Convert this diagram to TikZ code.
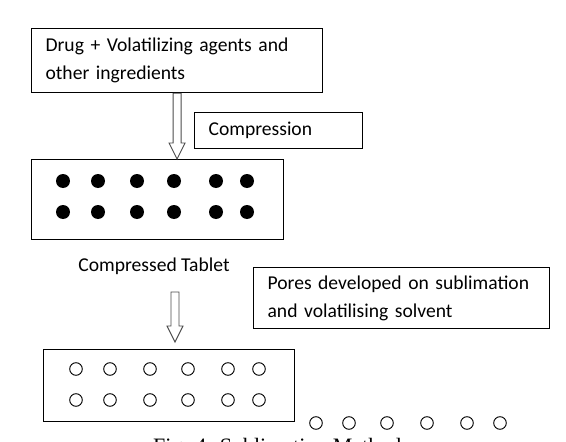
\documentclass[tikz,border=0pt]{standalone}
\usepackage{fontspec}
\setmainfont{Carlito}
\newfontfamily\capfont{Liberation Serif}
\usetikzlibrary{calc}
\newcommand\hollowarrow[2]{%
  \draw[harrow] ($(#1)+(-4,0)$) -- ($(#2)+(-4,-16)$) -- ($(#2)+(-8,-16)$) -- (#2)
    -- ($(#2)+(8,-16)$) -- ($(#2)+(4,-16)$) -- ($(#1)+(4,0)$) -- cycle;}
\begin{document}
\begin{tikzpicture}[x=1pt,y=-1pt,
  box/.style={draw, line width=1.2pt, anchor=north west, inner ysep=0pt, inner xsep=14pt,
              font=\fontsize{19.6}{28}\selectfont, align=left},
  lbl/.style={font=\fontsize{19.6}{28}\selectfont, inner sep=0pt},
  dotf/.style={fill=black},
  pore/.style={draw, line width=0.9pt},
  harrow/.style={draw=black!70, line width=0.9pt, fill=white, line join=miter}]
\useasboundingbox (0,0) rectangle (566,442);
% boxes
\node[box, text width=263pt, minimum height=64pt] (mix) at (31,28)
  {Drug + Volatilizing agents and\\other ingredients};
\node[box, text width=140pt, minimum height=36pt] (comp) at (194,112) {Compression};
\node[box, minimum width=252pt, minimum height=80pt, inner xsep=0pt] (tab) at (31,159) {};
\node[lbl] (ctl) at (154,266) {Compressed Tablet};
\node[box, text width=268pt, minimum height=61pt] (pores) at (253,267)
  {Pores developed on sublimation\\and volatilising solvent};
\node[box, minimum width=251pt, minimum height=72pt, inner xsep=0pt] (porous) at (43,349) {};
% arrows
\coordinate (a1tip) at (mix.south |- tab.north);
\hollowarrow{mix.south}{a1tip}
\coordinate (a2top) at (175,292);
\coordinate (a2tip) at (175,342);
\hollowarrow{a2top}{a2tip}
% filled dots
\foreach \y in {181,212}
  \foreach \x in {63,98,137,174,216,247}
    \fill[dotf] (\x,\y) circle (7);
% open pores
\foreach \y in {369,400}
  \foreach \x in {76,110,150,188,228,259}
    \draw[pore] (\x,\y) circle (6.3);
\foreach \x in {316,349,387,427,467,500}
  \draw[pore] (\x,423) circle (6.3);
% caption (cut off at the bottom edge, as in the source)
\node[font=\capfont\fontsize{22}{26}\selectfont, anchor=base west, inner sep=0pt] (cap)
  at (153,453) {Fig. 4: Sublimation Method};
\end{tikzpicture}
\end{document}
